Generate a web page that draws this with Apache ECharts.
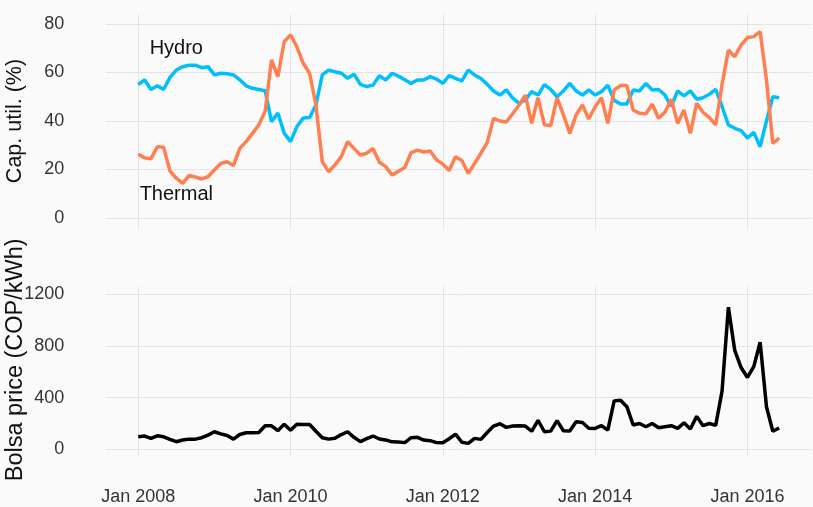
<!DOCTYPE html>
<html>
<head>
<meta charset="utf-8">
<script src="https://cdn.jsdelivr.net/npm/echarts@6/dist/echarts.min.js"></script>
<style>
  html, body { margin: 0; padding: 0; background: #FAFAFA; }
  #chart { width: 813px; height: 507px; }
</style>
</head>
<body>
<div id="chart"></div>
<script>
// monthly values, Jan 2008 .. Jun 2016 (one row per year)
const hydro = [
  55, 57, 53, 54.5, 53, 58, 61, 62.4, 63, 63, 62, 62.4,
  59, 59.7, 59.5, 59, 57, 54.5, 53.5, 53, 52.5, 39.7, 43.3, 35,
  31.5, 37.7, 41.2, 41.4, 46.6, 59, 61, 60.3, 59.7, 57.6, 59.3, 55.1,
  54.2, 54.8, 58.7, 56.9, 59.7, 58.5, 57, 55.5, 56.9, 56.9, 58.3, 57.3,
  55.5, 58.7, 57.6, 56.5, 61, 59, 57.5, 55.1, 52.4, 50.7, 52.8, 49.5,
  47.3, 48.7, 52.1, 50.7, 55, 53, 50, 52.4, 55.5, 52.4, 50.7, 52.8,
  50.7, 52.1, 54.8, 48.5, 47, 47, 52.8, 52.4, 55.5, 52.8, 53, 50.7,
  46, 52.4, 50.4, 52.4, 49, 49.6, 51, 53, 46, 38.4, 37, 36,
  33, 35.3, 29.4, 40, 50, 49.6
];
const thermal = [
  26.3, 24.8, 24.4, 29.4, 29.2, 19.4, 16.4, 14.3, 17.5, 16.9, 16.1, 17,
  19.8, 22.5, 23.2, 21.6, 28.7, 31.5, 34.9, 38.4, 44, 65.2, 58.3, 72.7,
  75.5, 70.6, 63.8, 59.7, 46.6, 23.2, 19.1, 21.9, 25.3, 31.5, 28.7, 26,
  26.7, 28.7, 23, 21.2, 17.7, 19.3, 20.8, 27, 28, 27.2, 27.6, 24,
  22.2, 19.6, 25.3, 23.7, 18.4, 22.5, 26.7, 31.2, 41.1, 40, 39.6, 43,
  46.5, 50.7, 39, 49.6, 38.4, 38.1, 49.6, 42.5, 34.9, 42.5, 46.6, 40.8,
  45.9, 49.6, 39, 52.8, 54.6, 54.6, 44.5, 43.2, 43, 46.9, 41.1, 43.6,
  49, 39, 44.5, 34.9, 47.3, 43.6, 41.4, 38.4, 55, 69.3, 66.5, 71.3,
  74.4, 74.8, 76.8, 57, 30.8, 32.9
];
const bolsaPrice = [
  97, 103, 85, 105, 97, 77, 59, 72, 79, 79, 90, 110,
  136, 120, 107, 79, 115, 128, 128, 131, 182, 182, 144, 195,
  148, 195, 192, 192, 140, 90, 79, 85, 114, 136, 93, 60,
  83, 103, 80, 73, 58, 56, 52, 90, 93, 72, 67, 52,
  51, 82, 118, 55, 46, 85, 77, 130, 180, 198, 170, 180,
  183, 180, 140, 225, 136, 141, 222, 144, 142, 213, 208, 163,
  162, 183, 149, 375, 380, 330, 188, 200, 175, 200, 167, 175,
  183, 162, 205, 157, 255, 183, 200, 185, 450, 1100, 766, 633,
  556, 640, 830, 330, 140, 165
];
const xTickMonths = [0, 24, 48, 72, 96];
const xTickLabels = ['Jan 2008', 'Jan 2010', 'Jan 2012', 'Jan 2014', 'Jan 2016'];
const capTicks = [0, 20, 40, 60, 80];
const priceTicks = [0, 400, 800, 1200];

const font = 'Liberation Sans, Arial, sans-serif';
const gridColor = '#E4E4E4';
const toPairs = arr => arr.map((v, i) => [i, v]);

const xAxisBase = {
  type: 'value',
  min: -5.05,
  max: 106.05,
  axisLine: { show: false },
  axisTick: { show: false, customValues: xTickMonths },
  splitLine: { show: true, lineStyle: { color: gridColor, width: 1 } }
};
const yAxisBase = {
  type: 'value',
  nameLocation: 'middle',
  nameRotate: 90,
  nameMoveOverlap: false,
  axisLine: { show: false },
  axisTick: { show: false },
  splitLine: { show: true, lineStyle: { color: gridColor, width: 1 } }
};
const tickLabel = { fontFamily: font, fontSize: 18, color: '#333', formatter: v => String(v) };

const chart = echarts.init(document.getElementById('chart'));
chart.setOption({
  backgroundColor: '#FAFAFA',
  animation: false,
  grid: [
    { left: 106.2, width: 705, top: 14.3, height: 213.4, containLabel: false, outerBoundsMode: 'none' },
    { left: 106.2, width: 705, top: 286.5, height: 170.6, containLabel: false, outerBoundsMode: 'none' }
  ],
  xAxis: [
    Object.assign({}, xAxisBase, {
      gridIndex: 0,
      axisLabel: { show: false, customValues: xTickMonths }
    }),
    Object.assign({}, xAxisBase, {
      gridIndex: 1,
      axisLabel: Object.assign({}, tickLabel, {
        customValues: xTickMonths,
        margin: 31,
        formatter: v => xTickLabels[xTickMonths.indexOf(v)]
      })
    })
  ],
  yAxis: [
    Object.assign({}, yAxisBase, {
      gridIndex: 0,
      name: 'Cap. util. (%)',
      nameGap: 80,
      nameTextStyle: { fontFamily: font, fontSize: 21.5, color: '#111' },
      min: -4,
      max: 84,
      axisTick: { show: false, customValues: capTicks },
      axisLabel: Object.assign({}, tickLabel, { customValues: capTicks, margin: 42 })
    }),
    Object.assign({}, yAxisBase, {
      gridIndex: 1,
      name: 'Bolsa price (COP/kWh)',
      nameGap: 79,
      nameTextStyle: { fontFamily: font, fontSize: 23.5, color: '#111', padding: [0, 0, 0, 24] },
      min: -60,
      max: 1260,
      axisTick: { show: false, customValues: priceTicks },
      axisLabel: Object.assign({}, tickLabel, { customValues: priceTicks, margin: 42 })
    })
  ],
  series: [
    {
      name: 'Hydro',
      type: 'line',
      xAxisIndex: 0,
      yAxisIndex: 0,
      data: toPairs(hydro),
      showSymbol: false,
      lineStyle: { color: '#00BFFF', width: 3.5 },
      markPoint: {
        symbol: 'circle',
        symbolSize: 0,
        label: { show: true, formatter: 'Hydro', fontFamily: font, fontSize: 20, color: '#111' },
        data: [{ coord: [6, 70] }]
      }
    },
    {
      name: 'Thermal',
      type: 'line',
      xAxisIndex: 0,
      yAxisIndex: 0,
      data: toPairs(thermal),
      showSymbol: false,
      lineStyle: { color: '#FF7F50', width: 3.5 },
      markPoint: {
        symbol: 'circle',
        symbolSize: 0,
        label: { show: true, formatter: 'Thermal', fontFamily: font, fontSize: 20, color: '#111' },
        data: [{ coord: [6, 9.5] }]
      }
    },
    {
      name: 'Bolsa price',
      type: 'line',
      xAxisIndex: 1,
      yAxisIndex: 1,
      data: toPairs(bolsaPrice),
      showSymbol: false,
      lineStyle: { color: '#000000', width: 3.5 }
    }
  ]
});
</script>
</body>
</html>
